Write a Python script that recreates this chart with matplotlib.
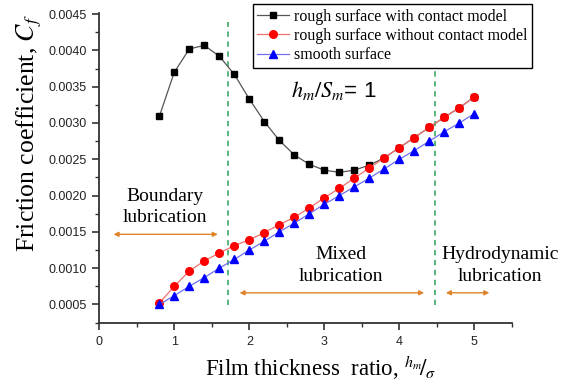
import numpy as np
import matplotlib.pyplot as plt
from matplotlib.ticker import MultipleLocator

# --- Data ---
ratio = [0.8, 1.0, 1.2, 1.4, 1.6, 1.8, 2.0, 2.2, 2.4, 2.6, 2.8, 3.0,
         3.2, 3.4, 3.6, 3.8, 4.0, 4.2, 4.4, 4.6, 4.8, 5.0]

cf_contact = [0.00309, 0.00370, 0.00402, 0.00407, 0.00392, 0.00367, 0.00333,
              0.00302, 0.00276, 0.00256, 0.00243, 0.00235, 0.00232, 0.00235,
              0.00242, 0.00252, 0.00266, 0.00280, 0.00294, 0.00308, 0.00321,
              0.00336]
cf_no_contact = [0.00052, 0.00075, 0.00096, 0.00110, 0.00121, 0.00131, 0.00139,
                 0.00149, 0.00160, 0.00170, 0.00183, 0.00197, 0.00210, 0.00224,
                 0.00238, 0.00252, 0.00266, 0.00280, 0.00294, 0.00308, 0.00321,
                 0.00336]
cf_smooth = [0.00050, 0.00062, 0.00075, 0.00087, 0.00100, 0.00112, 0.00125,
             0.00137, 0.00150, 0.00162, 0.00175, 0.00188, 0.00200, 0.00212,
             0.00224, 0.00237, 0.00250, 0.00262, 0.00275, 0.00288, 0.00300,
             0.00313]

regime_bounds = [1.72, 4.47]
labels = ['rough surface with contact model',
          'rough surface without contact model',
          'smooth surface']

serif = ['Liberation Serif', 'DejaVu Serif']
sans = ['Liberation Sans', 'DejaVu Sans']
plt.rcParams['mathtext.fontset'] = 'stix'

fig = plt.figure(figsize=(5.70, 3.89), dpi=100)
ax = fig.add_axes([0.1742, 0.1689, 0.898 - 0.1742, 0.9674 - 0.1689])

ax.plot(ratio, cf_contact, '-s', color='#555555', lw=0.9, ms=5,
        mfc='black', mec='black', label=labels[0], zorder=3)
ax.plot(ratio, cf_no_contact, '-o', color='#f07070', lw=0.9, ms=5.5,
        mfc='red', mec='red', label=labels[1], zorder=4)
ax.plot(ratio, cf_smooth, '-^', color='#7070f0', lw=0.9, ms=5.5,
        mfc='blue', mec='blue', label=labels[2], zorder=5)

# --- regime separators ---
ax.plot([regime_bounds[0]] * 2, [0.00049, 0.00439], '--', color='#2ca05a',
        lw=1.1, dashes=(3.5, 3))
ax.plot([regime_bounds[1]] * 2, [0.00049, 0.00372], '--', color='#2ca05a',
        lw=1.1, dashes=(3.5, 3))

arrow = dict(arrowstyle='<|-|>', color='#e0822a', lw=1.0,
             mutation_scale=7, shrinkA=0, shrinkB=0)
ax.annotate('', xy=(0.19, 0.001466), xytext=(1.58, 0.001466), arrowprops=arrow)
ax.annotate('', xy=(1.87, 0.00066), xytext=(4.33, 0.00066), arrowprops=arrow)
ax.annotate('', xy=(4.62, 0.00066), xytext=(5.2, 0.00066), arrowprops=arrow)

ax.text(0.88, 0.00184, 'Boundary\nlubrication', family=serif, fontsize=14,
        ha='center', va='center', linespacing=1.35)
ax.text(3.22, 0.00104, 'Mixed\nlubrication', family=serif, fontsize=14,
        ha='center', va='center', linespacing=1.35)
ax.text(5.34, 0.00104, 'Hydrodynamic\nlubrication', family=serif, fontsize=14,
        ha='center', va='center', linespacing=1.35, clip_on=False)
ax.text(2.56, 0.00345, r'$h_m/S_m$= 1', family=sans, fontsize=16,
        ha='left', va='center')

ax.set_xlim(0, 5.5)
ax.set_ylim(0.00024, 0.00452)
ax.xaxis.set_major_locator(MultipleLocator(1))
ax.xaxis.set_minor_locator(MultipleLocator(0.5))
ax.yaxis.set_major_locator(MultipleLocator(0.0005))
ax.yaxis.set_minor_locator(MultipleLocator(0.00025))
ax.yaxis.set_major_formatter(plt.FormatStrFormatter('%.4f'))

for s in ['top', 'right']:
    ax.spines[s].set_visible(False)
for s in ['left', 'bottom']:
    ax.spines[s].set_linewidth(1.3)
    ax.spines[s].set_color('#333333')
ax.tick_params(which='major', direction='out', length=5, width=1.2,
               color='#333333', labelsize=9, labelcolor='#222222', pad=4)
ax.tick_params(which='minor', direction='out', length=3, width=1.0,
               color='#333333')
for t in ax.get_xticklabels() + ax.get_yticklabels():
    t.set_family(sans)

ax.set_xlabel(r'Film thickness  ratio, $^{h_m}\!/_{\sigma}$', family=serif,
              fontsize=16.5)
ax.xaxis.set_label_coords(0.537, -0.10)
ax.set_ylabel(r'Friction coefficient, $C_f$', family=serif, fontsize=18.5)
ax.yaxis.set_label_coords(-0.135, 0.613)

leg = ax.legend(loc='upper right', bbox_to_anchor=(0.9333, 0.9897),
                bbox_transform=fig.transFigure, borderaxespad=0,
                prop={'family': serif, 'size': 11.4}, fancybox=False,
                edgecolor='black', framealpha=1, handlelength=2.0,
                handletextpad=0.3, labelspacing=0.2, borderpad=0.3)
leg.get_frame().set_linewidth(1.0)

fig.savefig('out.png', dpi=100)
